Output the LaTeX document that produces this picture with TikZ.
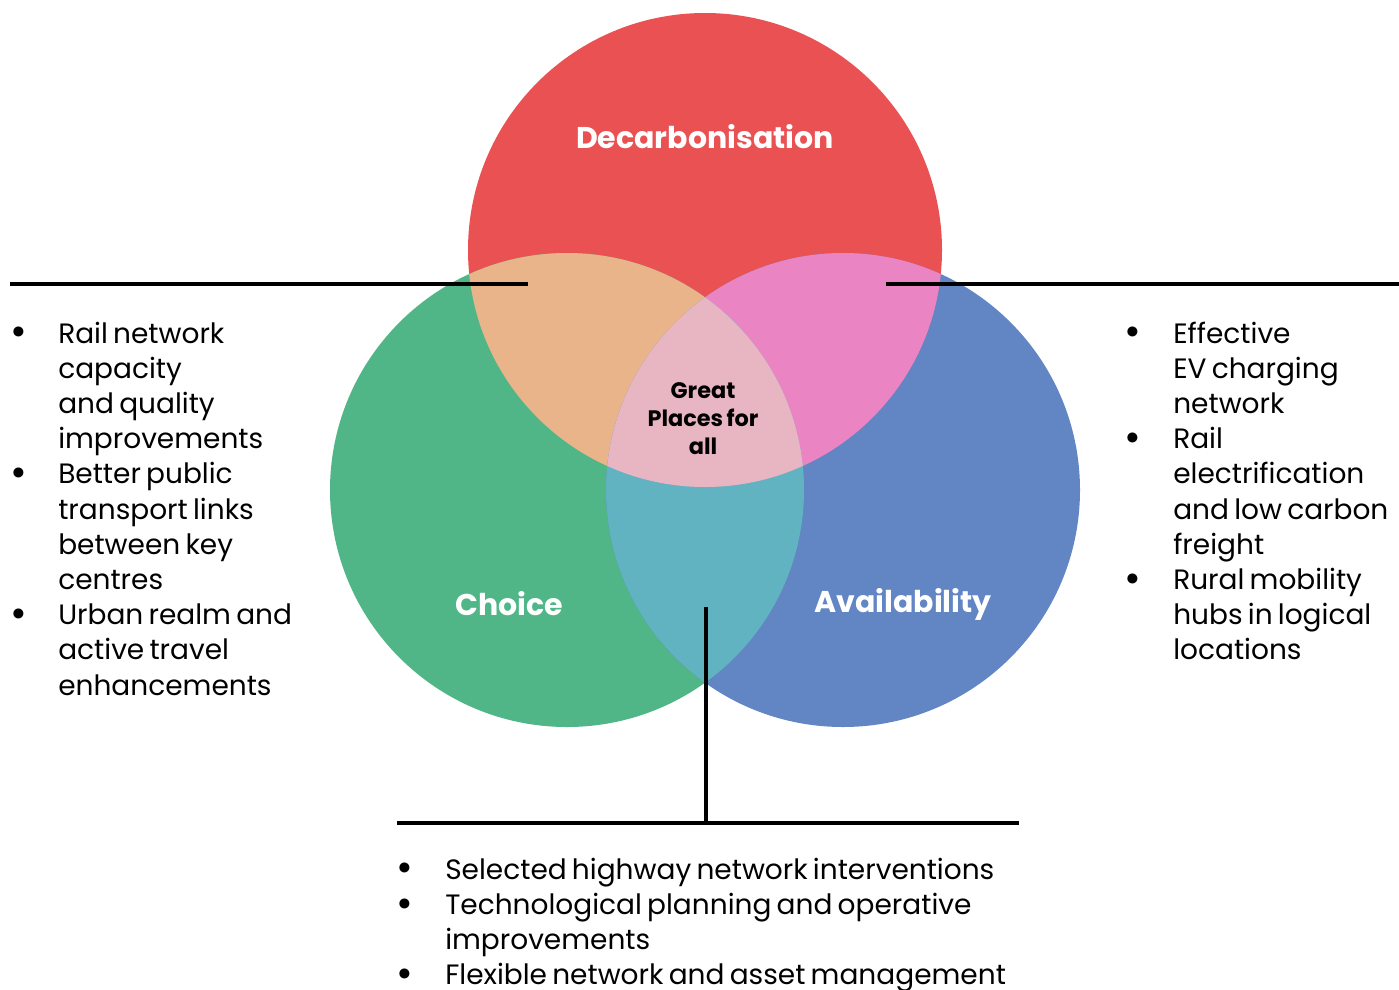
\documentclass[tikz,border=0pt]{standalone}
\usepackage{fontspec}
\setmainfont{Poppins}[WordSpace=0.7]
\usepackage{array}
\usepackage{graphicx}
\definecolor{cRed}{HTML}{EA5153}
\definecolor{cGreen}{HTML}{50B687}
\definecolor{cBlue}{HTML}{6285C3}
\definecolor{cRG}{HTML}{E9B48A}
\definecolor{cRB}{HTML}{EB84C3}
\definecolor{cGB}{HTML}{62B3C1}
\definecolor{cAll}{HTML}{E8B5C3}
\tikzset{
  rule/.style={line width=3pt},
  title/.style={font=\fontsize{22.5}{28}\selectfont\bfseries, text=white, inner sep=0pt},
  listtext/.style={font=\fontsize{21}{26.4}\selectfont, inner sep=0pt, anchor=base west, align=left},
}
% larger list bullet
\newcommand{\blt}{\smash{\raisebox{-0.1em}{\scalebox{1.45}{\textbullet}}}}
\begin{document}
\begin{tikzpicture}[x=0.75pt,y=-0.75pt]
\useasboundingbox (0,0) rectangle (1399,989);
\def\R{177.75pt}
\coordinate (cT) at (705,250);
\coordinate (cL) at (567,490);
\coordinate (cRt) at (843,490);
% the three circles
\fill[cRed] (cT) circle[radius=\R];
\fill[cGreen] (cL) circle[radius=\R];
\fill[cBlue] (cRt) circle[radius=\R];
% pairwise overlaps
\begin{scope}
  \clip (cT) circle[radius=\R];
  \fill[cRG] (cL) circle[radius=\R];
  \fill[cRB] (cRt) circle[radius=\R];
\end{scope}
\begin{scope}
  \clip (cL) circle[radius=\R];
  \fill[cGB] (cRt) circle[radius=\R];
  \clip (cRt) circle[radius=\R];
  \fill[cAll] (cT) circle[radius=\R];
\end{scope}
% circle titles
\node[title] (dec) at (705,137) {Decarbonisation};
\node[title] (cho) at (509,604) {Choice};
\node[title] (ava) at (903,604) {Availability};
\node[font=\fontsize{16.8}{21}\selectfont\bfseries, align=center, inner sep=0pt] (gp) at (703,419) {Great\\Places for\\all};
% leader lines
\coordinate (lA) at (10,284);
\coordinate (lB) at (528,284);
\coordinate (rA) at (886,284);
\coordinate (rB) at (1399,284);
\coordinate (vT) at (706,607);
\coordinate (vB) at (706,823);
\coordinate (bA) at (397,823);
\coordinate (bB) at (1019,823);
\draw[rule] (lA) -- (lB);
\draw[rule] (rA) -- (rB);
\draw[rule] (vT) -- (vB);
\draw[rule] (bA) -- (bB);
% lists
\node[listtext] (leftlist) at (10,343) {\begin{tabular}[t]{@{}p{36pt}@{}l@{}}
\blt & Rail network\\
 & capacity\\
 & and quality\\
 & improvements\\
\blt & Better public\\
 & transport links\\
 & between key\\
 & centres\\
\blt & Urban realm and\\
 & active travel\\
 & enhancements
\end{tabular}};
\node[listtext] (rightlist) at (1124,343) {\begin{tabular}[t]{@{}p{36.75pt}@{}l@{}}
\blt & Effective\\
 & EV charging\\
 & network\\
\blt & Rail\\
 & electrification\\
 & and low carbon\\
 & freight\\
\blt & Rural mobility\\
 & hubs in logical\\
 & locations
\end{tabular}};
\node[listtext] (bottomlist) at (396,879) {\begin{tabular}[t]{@{}p{36.75pt}@{}l@{}}
\blt & Selected highway network interventions\\
\blt & Technological planning and operative\\
 & improvements\\
\blt & Flexible network and asset management
\end{tabular}};
\end{tikzpicture}
\end{document}
